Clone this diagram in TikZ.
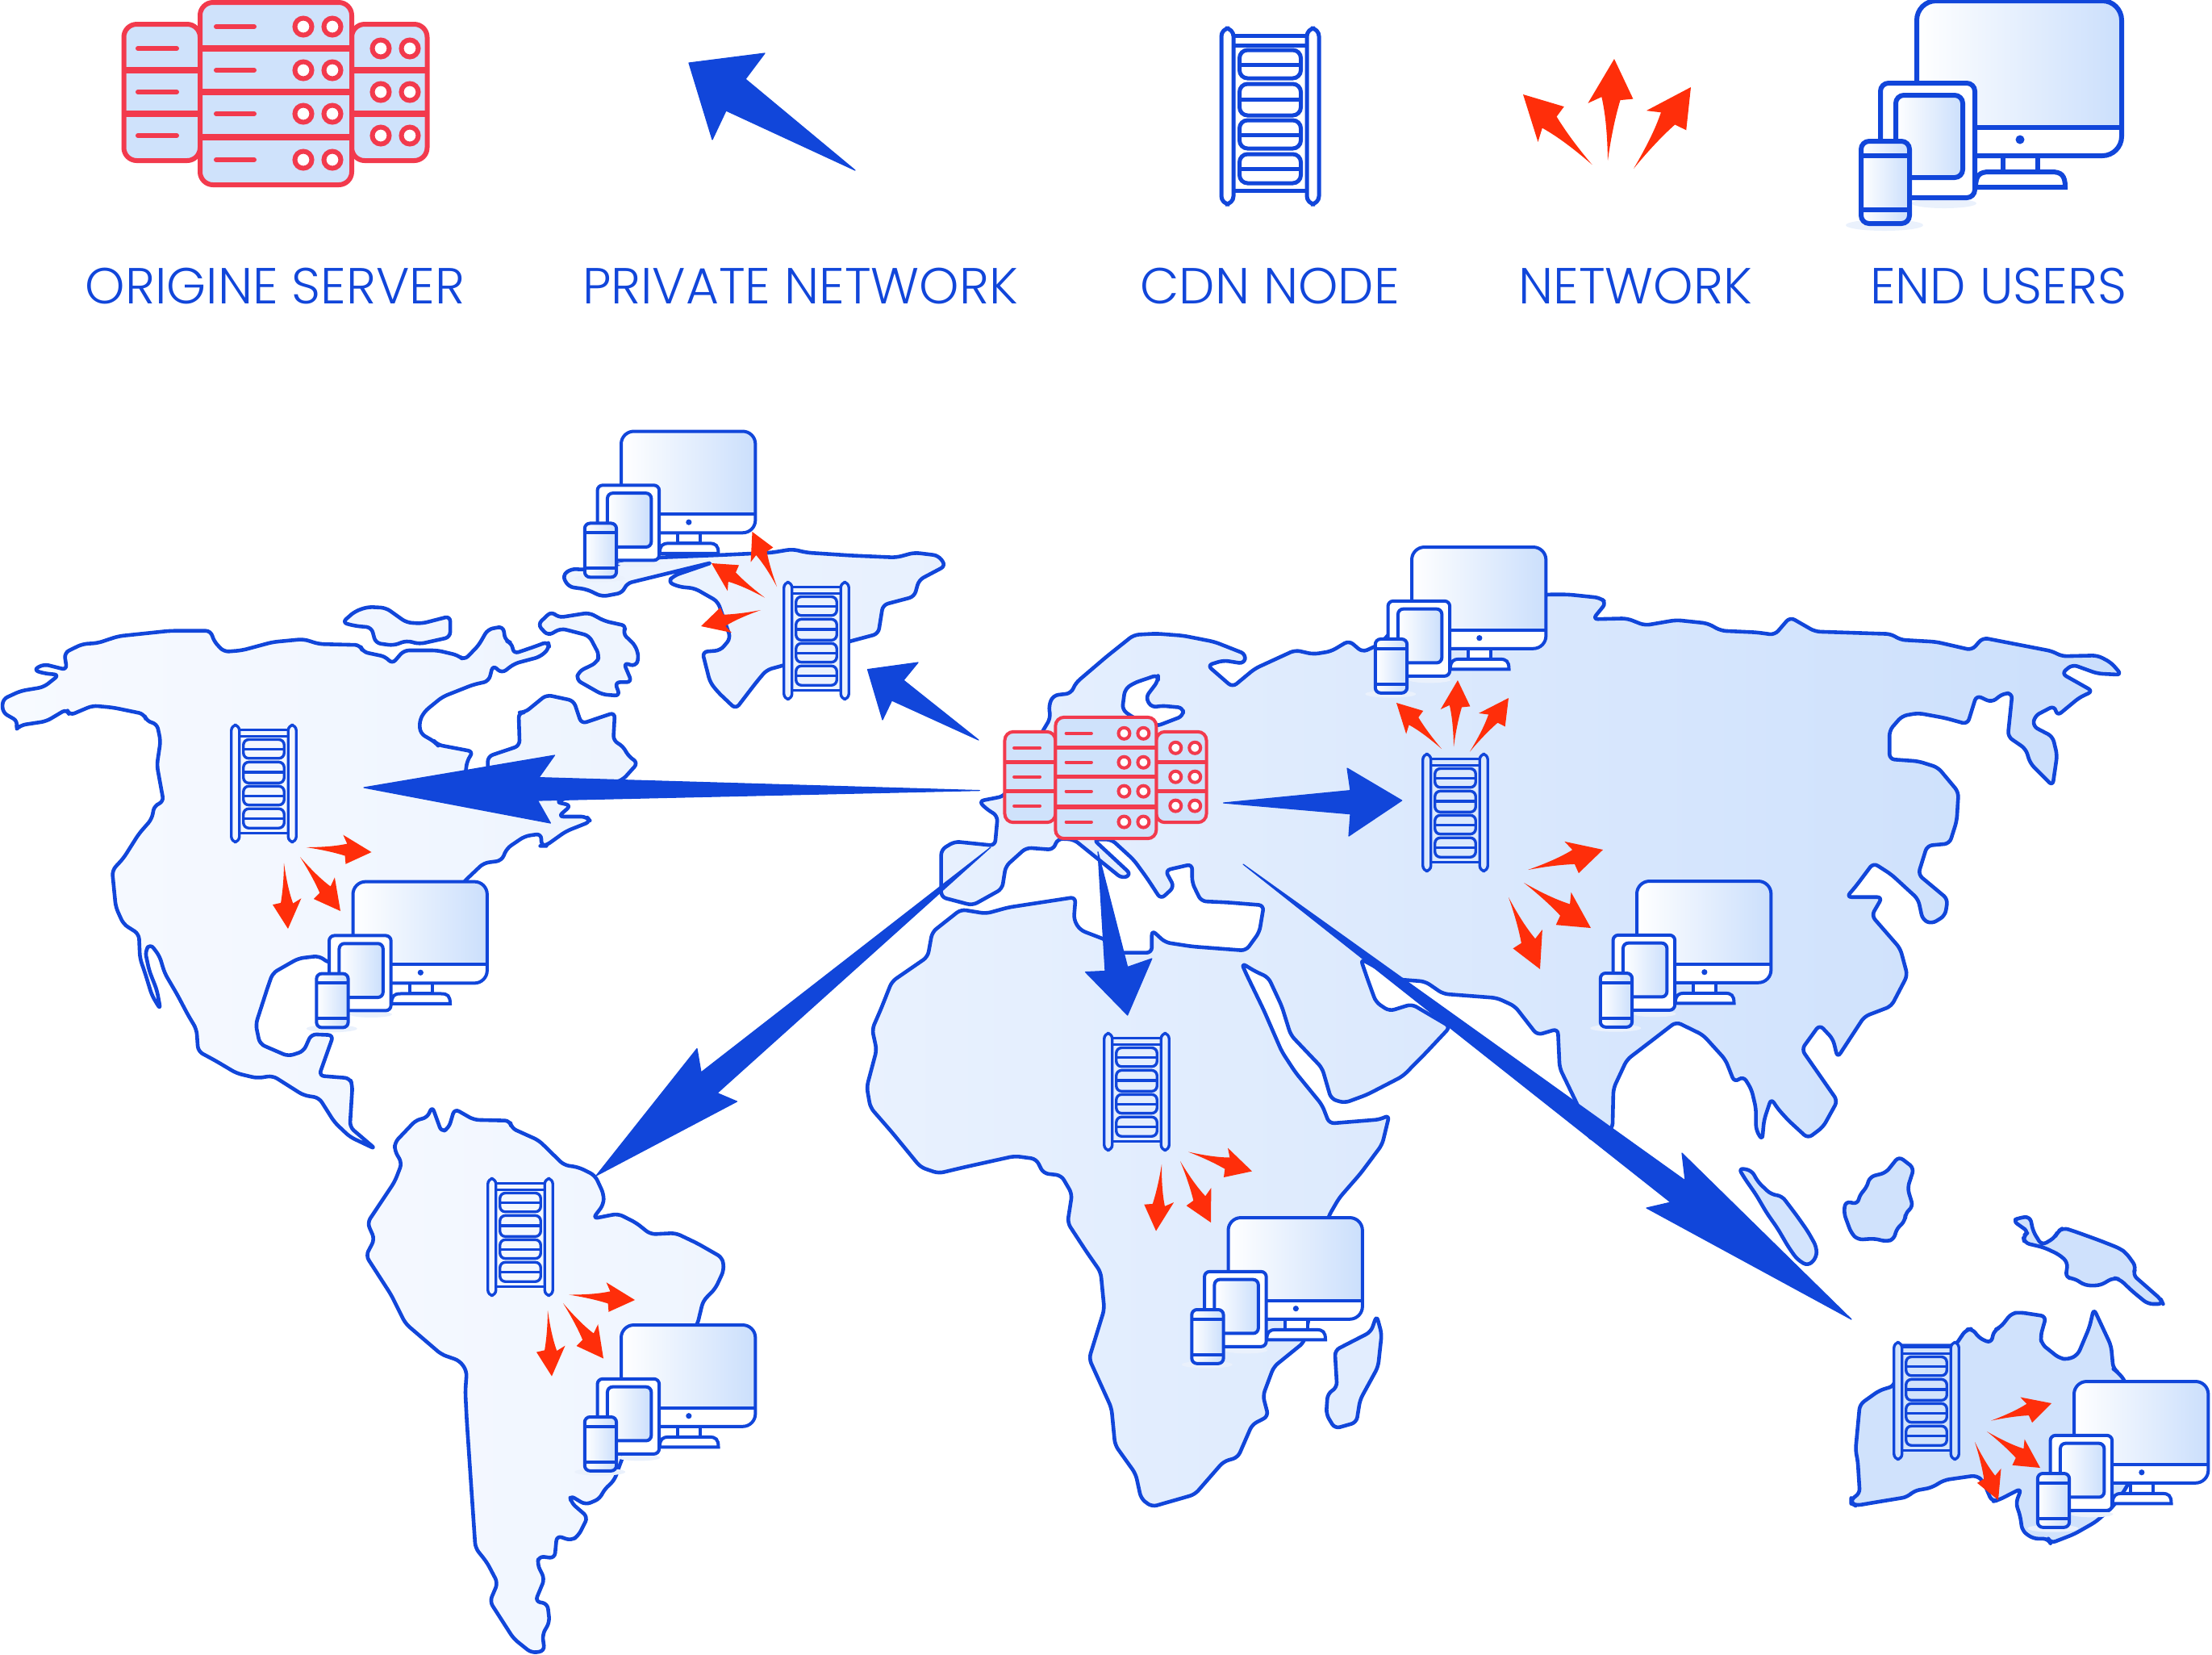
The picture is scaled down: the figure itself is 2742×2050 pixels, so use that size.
\documentclass[tikz,border=0pt]{standalone}
\usepackage{fontspec}
\setmainfont{Poppins Light}
\definecolor{mainblue}{HTML}{1146DA}
\definecolor{netred}{HTML}{FF2E0A}
\definecolor{srvred}{HTML}{F23A4D}
\definecolor{srvfill}{HTML}{CFE2FB}
\definecolor{scr}{HTML}{CBDFFC}
\definecolor{mapL}{HTML}{F7FAFF}
\definecolor{mapR}{HTML}{CBDFFC}
\definecolor{shadowc}{HTML}{EAF1FC}
\tikzset{
  land/.style={draw=mainblue,line width=1.15pt,line join=round,rounded corners=1.6pt,left color=mapR!#1!mapL,right color=mapR!#1!mapL},
  landrange/.style 2 args={draw=mainblue,line width=1.15pt,line join=round,rounded corners=1.6pt,left color=mapR!#1!mapL,right color=mapR!#2!mapL},
  bluearrow/.style={fill=mainblue,draw=mainblue,line width=.3pt,line join=round},
  redarrow/.style={fill=netred},
  lbl/.style={text=mainblue,font=\fontsize{15.7}{18}\selectfont,anchor=base,inner sep=0pt},
}
% origin server icon: centre x,y, scale, line width
\newcommand\ServerIcon[4]{%
\begin{scope}[shift={(#1,#2)},scale=#3,line width=#4,draw=srvred]
  \pgfmathsetmacro\rr{#3*4}
  \filldraw[fill=srvfill,rounded corners=\rr pt] (-188,-86) rectangle (-93.5,83);
  \filldraw[fill=srvfill,rounded corners=\rr pt] (94.5,-86) rectangle (188,83);
  \filldraw[fill=srvfill,rounded corners=\rr pt] (-93.5,-113) rectangle (94.5,113);
  \foreach \yy in {-29,25} {
    \draw[line width=1.3*#4] (-188,\yy) -- (-93.5,\yy);
    \draw[line width=1.3*#4] (94.5,\yy) -- (188,\yy);
  }
  \foreach \yy in {-56,-2,54} \draw[line width=1.3*#4] (-93.5,\yy) -- (94.5,\yy);
  \foreach \yy in {-56,-2,52} {
    \draw[line cap=round] (-170.5,\yy) -- (-122.5,\yy);
    \foreach \xx in {130.5,166.5} \filldraw[fill=white] (\xx,\yy) circle (10.5);
  }
  \foreach \yy in {-83,-29,25,82} {
    \draw[line cap=round] (-73.5,\yy) -- (-26.5,\yy);
    \foreach \xx in {34.5,70.5} \filldraw[fill=white] (\xx,\yy) circle (10.5);
  }
\end{scope}}
% CDN node icon: centre x,y, scale, line width, interior colour
\newcommand\CdnIcon[5]{%
\begin{scope}[shift={(#1,#2)},scale=#3,line width=#4,draw=mainblue]
  \pgfmathsetmacro\rr{#3*2.5}
  \fill[#5] (-50,-96) rectangle (50,96);
  \draw (-48,-100) -- (48,-100);
  \draw (-48,-88) -- (48,-88);
  \draw (-48,92) -- (48,92);
  \filldraw[fill=#5,rounded corners=\rr pt] (-60.5,-109) rectangle (-45.5,109);
  \filldraw[fill=#5,rounded corners=\rr pt] (45.5,-109) rectangle (60.5,109);
  \foreach \ya/\yb/\ym in {-82/-47/-64,-40/-1/-21,5/40/23,47/83/65} {
    \filldraw[fill=#5,rounded corners=\rr pt] (-38,\ya) rectangle (38,\yb);
    \draw (-38,\ym) -- (38,\ym);
  }
\end{scope}}
% end users icon: monitor top-left x,y, scale, line width
\newcommand\UsersIcon[4]{%
\begin{scope}[shift={(#1,#2)},scale=#3,line width=#4,draw=mainblue]
  \pgfmathsetmacro\rr{#3*6}
  \pgfmathsetmacro\rs{#3*2.5}
  \fill[shadowc] (-40,278) ellipse (48 and 7);
  \fill[shadowc] (34,251) ellipse (40 and 6);
  \filldraw[fill=white] (107,192) rectangle (150,212);
  \filldraw[fill=white] (73,231) .. controls (73,216) and (78,212) .. (90,212) -- (167,212) .. controls (179,212) and (184,216) .. (184,231) -- cycle;
  \path[left color=white,right color=scr,rounded corners=\rr pt] (0,0) rectangle (254,192);
  \fill[white] (1,157) [rounded corners=\rr pt] -- (1,191) -- (253,191) [sharp corners] -- (253,157) -- cycle;
  \draw[rounded corners=\rr pt] (0,0) rectangle (254,192);
  \draw (0,157) -- (254,157);
  \fill[mainblue] (128,172) circle (5.5);
  \filldraw[fill=white,rounded corners=\rs pt] (-45,102) rectangle (72,244);
  \path[left color=white,right color=scr,rounded corners=\rs pt] (-26,117) rectangle (57,219);
  \draw[rounded corners=\rs pt] (-26,117) rectangle (57,219);
  \path[left color=white,right color=scr,rounded corners=\rs pt] (-69,174) rectangle (-9,276);
  \draw[rounded corners=\rs pt] (-69,174) rectangle (-9,276);
  \draw (-69,192) -- (-9,192);
  \draw (-69,259) -- (-9,259);
\end{scope}}
% small red arrow: tail x,y, tip x,y
\newcommand\NetArrow[4]{%
  \pgfmathsetmacro\adx{#3-#1}\pgfmathsetmacro\ady{#4-#2}%
  \def\AP##1##2##3{\coordinate (##1) at ({#1+##2*\adx-##3*\ady},{#2+##2*\ady+##3*\adx});}%
  \AP{at}{0}{0}\AP{aa}{.25}{-.02}\AP{ab}{.45}{-.05}\AP{ac}{.62}{-.1}\AP{ad}{.55}{-.23}\AP{ae}{1}{0}%
  \AP{af}{.62}{.21}\AP{ag}{.6}{.085}\AP{ah}{.45}{.05}\AP{ai}{.25}{.018}%
  \fill[redarrow] (at) .. controls (aa) and (ab) .. (ac) -- (ad) -- (ae) -- (af) -- (ag) .. controls (ah) and (ai) .. (at) -- cycle;}
\begin{document}
\begin{tikzpicture}[x=.25pt,y=-.25pt]
\useasboundingbox (0,0) rectangle (2742,2050);

% ---- land: North America and its islands
\begin{scope}[shift={(0,500)},xscale=.6378,yscale=.6059]
\draw[landrange={0}{22}] (5,605)--(40,588)--(85,580)--(115,555)--(85,552)--(65,545)--(85,533)--(130,545)--(125,510)--(160,492)--(190,490)--(230,476)--(330,465)--(410,465)--(415,485)--(435,508)--(470,505)--(530,488)--(590,482)--(620,492)--(700,494)--(705,508)--(750,518)--(762,533)--(785,505)--(850,505)--(890,515)--(902,525)--(930,495)--(948,462)--(978,456)--(982,485)--(995,490)--(998,512)--(1040,497)--(1065,487)--(1068,500)--(1050,518)--(1000,532)--(975,552)--(958,535)--(950,568)--(920,575)--(860,600)--(825,630)--(815,650)--(817,675)--(845,692)--(850,698)--(920,712)--(908,730)--(903,770)--(948,770)--(948,722)--(1010,700)--(1008,632)--(1020,632)--(1062,596)--(1115,608)--(1130,655)--(1195,632)--(1192,690)--(1210,700)--(1222,722)--(1240,735)--(1210,770)--(1120,800)--(1080,815)--(1110,822)--(1085,845)--(1140,845)--(1148,855)--(1100,875)--(1060,905)--(1052,905)--(1052,880)--(1020,885)--(985,910)--(975,935)--(940,940)--(905,975)--(800,1100)--(640,1145)--(620,1130)--(580,1135)--(530,1165)--(520,1195)--(497,1270)--(505,1310)--(560,1335)--(590,1325)--(605,1290)--(648,1292)--(620,1375)--(680,1380)--(685,1395)--(680,1480)--(730,1525)--(680,1500)--(650,1470)--(620,1420)--(590,1415)--(530,1375)--(500,1380)--(460,1370)--(420,1345)--(385,1325)--(382,1280)--(365,1250)--(345,1210)--(320,1165)--(310,1130)--(292,1105)--(282,1120)--(290,1160)--(305,1200)--(312,1240)--(295,1210)--(282,1165)--(272,1135)--(270,1085)--(240,1065)--(225,1030)--(218,955)--(240,930)--(270,880)--(295,850)--(300,822)--(318,815)--(305,740)--(312,690)--(305,655)--(285,650)--(280,635)--(220,622)--(180,618)--(135,638)--(130,625)--(90,650)--(40,658)--(30,668)--(35,650)--(5,632)--cycle;
\draw[land=14] (665,448)--(690,425)--(715,416)--(750,418)--(790,448)--(820,450)--(875,435)--(875,478)--(815,492)--(790,485)--(765,495)--(730,490)--(722,458)--(690,455)--cycle;
\draw[land=18] (1045,452)--(1072,425)--(1085,438)--(1145,428)--(1175,445)--(1218,455)--(1210,470)--(1235,495)--(1242,520)--(1235,538)--(1212,530)--(1228,570)--(1195,570)--(1205,598)--(1170,595)--(1120,565)--(1125,548)--(1160,530)--(1165,515)--(1145,475)--(1090,460)--(1065,475)--cycle;
% Greenland
\draw[landrange={22}{36}] (1093,352)--(1110,338)--(1135,340)--(1280,315)--(1400,310)--(1500,305)--(1540,298)--(1568,305)--(1655,311)--(1742,315)--(1777,305)--(1824,311)--(1838,332)--(1786,361)--(1777,395)--(1716,412)--(1707,471)--(1650,487)--(1525,535)--(1490,545)--(1470,570)--(1430,625)--(1395,590)--(1380,570)--(1365,508)--(1400,505)--(1420,480)--(1410,450)--(1395,405)--(1350,378)--(1320,375)--(1298,365)--(1310,352)--(1385,325)--(1218,368)--(1210,387)--(1170,395)--(1140,380)--(1105,375)--cycle;
\end{scope}

% ---- land: South America
\begin{scope}[shift={(400,1250)},xscale=.893,yscale=.5102]
\draw[landrange={6}{18}] (100,325)--(130,270)--(145,265)--(152,237)--(165,300)--(175,290)--(183,243)--(210,270)--(260,272)--(262,290)--(300,320)--(335,380)--(355,385)--(378,405)--(390,450)--(390,475)--(375,510)--(410,498)--(435,520)--(455,548)--(490,545)--(520,570)--(555,605)--(557,635)--(545,680)--(528,710)--(520,768)--(460,900)--(413,1105)--(405,1145)--(390,1170)--(385,1190)--(365,1205)--(343,1182)--(345,1200)--(368,1235)--(355,1280)--(345,1292)--(325,1280)--(322,1335)--(300,1330)--(298,1350)--(308,1385)--(295,1440)--(312,1445)--(315,1490)--(305,1520)--(308,1560)--(290,1565)--(265,1530)--(232,1440)--(243,1395)--(228,1345)--(212,1310)--(205,1130)--(200,1000)--(198,930)--(200,880)--(190,855)--(165,840)--(115,765)--(95,695)--(60,600)--(72,560)--(62,520)--(100,420)--(110,375)--(100,345)--cycle;
\draw[land=48] (1463,745)--(1470,790)--(1465,870)--(1440,950)--(1435,1005)--(1405,1020)--(1393,985)--(1395,935)--(1408,920)--(1405,830)--(1455,785)--cycle;
\end{scope}

% ---- land: Eurasia and Africa
\begin{scope}[shift={(1000,650)},xscale=1.1111,yscale=.5102]
\draw[landrange={32}{100}] (272,470)--(270,440)--(275,415)--(295,410)--(300,385)--(335,320)--(365,268)--(390,265)--(420,270)--(455,285)--(490,315)--(488,338)--(465,330)--(447,342)--(475,395)--(500,350)--(545,305)--(565,315)--(585,308)--(605,282)--(620,310)--(640,290)--(660,240)--(825,170)--(850,170)--(885,178)--(892,190)--(877,230)--(915,228)--(935,245)--(970,232)--(1005,240)--(1020,258)--(1060,262)--(1080,268)--(1097,225)--(1125,260)--(1210,266)--(1220,280)--(1260,285)--(1300,305)--(1312,275)--(1390,308)--(1400,320)--(1440,318)--(1455,335)--(1467,365)--(1440,362)--(1412,340)--(1400,362)--(1435,405)--(1420,420)--(1395,465)--(1392,440)--(1370,465)--(1368,490)--(1390,515)--(1395,560)--(1390,635)--(1365,580)--(1360,545)--(1340,515)--(1345,410)--(1335,410)--(1322,432)--(1305,415)--(1295,485)--(1270,470)--(1240,458)--(1222,465)--(1208,500)--(1208,570)--(1240,575)--(1262,590)--(1285,650)--(1283,720)--(1275,775)--(1250,780)--(1240,850)--(1273,910)--(1270,950)--(1255,970)--(1245,960)--(1240,910)--(1210,850)--(1190,822)--(1170,880)--(1160,905)--(1200,905)--(1188,950)--(1220,1030)--(1228,1095)--(1210,1170)--(1180,1195)--(1150,1295)--(1145,1250)--(1130,1215)--(1110,1275)--(1150,1400)--(1134,1463)--(1117,1491)--(1105,1467)--(1095,1447)--(1083,1418)--(1076,1394)--(1068,1447)--(1066,1496)--(1059,1470)--(1059,1418)--(1054,1372)--(1045,1340)--(1035,1355)--(1025,1300)--(1000,1240)--(970,1208)--(945,1250)--(915,1300)--(900,1370)--(899,1467)--(875,1496)--(860,1410)--(840,1320)--(838,1225)--(815,1240)--(790,1170)--(770,1150)--(710,1140)--(690,1110)--(660,1105)--(618,1055)--(625,1100)--(635,1160)--(650,1182)--(675,1165)--(718,1220)--(690,1285)--(665,1340)--(625,1385)--(600,1405)--(585,1395)--(575,1320)--(540,1240)--(530,1170)--(515,1100)--(500,1085)--(485,1065)--(490,1090)--(510,1180)--(530,1280)--(545,1330)--(575,1410)--(583,1455)--(640,1445)--(650,1434)--(642,1506)--(618,1576)--(594,1636)--(582,1681)--(555,1986)--(521,2046)--(509,2116)--(515,2166)--(497,2186)--(481,2266)--(465,2276)--(433,2356)--(385,2386)--(373,2366)--(367,2306)--(344,2236)--(340,2146)--(315,2026)--(332,1906)--(328,1816)--(312,1766)--(291,1696)--(296,1626)--(284,1581)--(264,1576)--(256,1541)--(232,1534)--(176,1561)--(147,1576)--(127,1561)--(95,1476)--(71,1416)--(67,1366)--(78,1276)--(73,1226)--(83,1176)--(95,1110)--(135,1050)--(140,990)--(172,935)--(200,945)--(225,930)--(300,905)--(298,960)--(305,985)--(335,1010)--(345,1040)--(385,1040)--(385,985)--(400,1015)--(430,1025)--(490,1035)--(505,990)--(510,925)--(470,918)--(440,915)--(430,870)--(430,825)--(400,840)--(410,880)--(395,910)--(380,860)--(365,815)--(340,765)--(320,765)--(362,850)--(352,860)--(298,765)--(280,763)--(275,790)--(245,785)--(222,830)--(218,885)--(185,925)--(150,905)--(150,790)--(165,770)--(210,780)--(213,708)--(200,690)--(192,672)--(220,660)--cycle;
\draw[draw=mainblue,line width=1.15pt,line join=round,rounded corners=1.6pt,fill=white] (392,365)--(365,385)--(355,400)--(352,450)--(365,470)--(390,490)--(420,465)--(420,445)--(395,440)--(385,445)--(378,420)--(392,380)--cycle;
\end{scope}

% ---- land: islands and Australia
\begin{scope}[shift={(1900,1350)},xscale=.537,yscale=.3827]
\draw[land=82] (475,255)--(505,262)--(520,300)--(550,340)--(575,345)--(610,410)--(635,460)--(655,510)--(655,545)--(635,572)--(610,550)--(590,510)--(565,450)--(540,400)--(515,340)--(490,290)--cycle;
\draw[land=88] (845,217)--(880,255)--(865,320)--(878,380)--(860,400)--(860,425)--(838,455)--(835,485)--(815,493)--(790,483)--(750,487)--(735,465)--(718,400)--(722,362)--(750,372)--(755,340)--(770,320)--(778,283)--(815,270)--cycle;
\draw[land=92] (1108,425)--(1145,462)--(1132,475)--(1135,497)--(1180,512)--(1215,535)--(1235,560)--(1230,610)--(1250,612)--(1275,635)--(1310,635)--(1340,610)--(1355,615)--(1385,655)--(1420,695)--(1455,695)--(1450,680)--(1385,600)--(1393,575)--(1370,530)--(1355,515)--(1310,490)--(1255,462)--(1225,448)--(1212,460)--(1205,480)--(1175,505)--(1155,460)--(1148,412)--(1125,415)--cycle;
\draw[land=88] (735,1325)--(755,1310)--(750,1200)--(745,1170)--(755,1020)--(775,1000)--(800,975)--(835,960)--(840,830)--(975,830)--(1000,778)--(1015,775)--(1030,805)--(1058,822)--(1065,780)--(1080,770)--(1105,725)--(1125,722)--(1185,735)--(1172,800)--(1175,825)--(1215,870)--(1235,875)--(1258,860)--(1285,770)--(1295,710)--(1315,770)--(1335,830)--(1340,905)--(1350,915)--(1368,945)--(1400,1200)--(1370,1290)--(1340,1350)--(1300,1400)--(1250,1440)--(1195,1470)--(1190,1455)--(1155,1455)--(1130,1430)--(1125,1380)--(1115,1340)--(1128,1292)--(1075,1330)--(1060,1335)--(1040,1270)--(1025,1250)--(950,1265)--(920,1290)--(880,1300)--(865,1320)--(800,1335)--(745,1348)--(735,1340)--cycle;
\end{scope}

% ---- blue arrows
\fill[bluearrow] (854,78)--(948,66)--(924,98)--(1060,211)--(900,137)--(883,173)--cycle;
\fill[bluearrow] (1075.5,829.6)--(1138,821)--(1120,843)--(1213,917)--(1105.5,868)--(1094,892)--cycle;
\fill[bluearrow] (451,976)--(687.5,936)--(668,963.6)--(1214.4,979.6)--(666.5,992)--(682.4,1020)--cycle;
\fill[bluearrow] (1516.6,995)--(1674,979.6)--(1670,952)--(1737.7,992)--(1672,1036)--(1674,1008.7)--cycle;
\fill[bluearrow] (1361,1055.6)--(1397.7,1198.5)--(1427.8,1188)--(1397.7,1258)--(1345.5,1204.6)--(1370,1203.5)--cycle;
\fill[bluearrow] (1228,1050)--(869,1329)--(864,1299.5)--(739,1457)--(913.5,1365)--(889,1354.6)--cycle;
\fill[bluearrow] (1541,1071)--(2089,1463)--(2085,1429)--(2295,1635)--(2041,1497)--(2071,1490)--cycle;

% ---- red arrows
\NetArrow{1973.5}{204}{1888}{117}
\NetArrow{1993}{199}{2001}{73}
\NetArrow{2025}{209}{2096}{108}
\NetArrow{963}{727}{932.5}{659}
\NetArrow{948}{740.6}{882}{698}
\NetArrow{943}{756}{869}{776}
\NetArrow{379.5}{1050}{460.5}{1056}
\NetArrow{372}{1062}{422}{1129}
\NetArrow{352}{1069.6}{357}{1151}
\NetArrow{1787}{928}{1731}{871}
\NetArrow{1802}{925.5}{1807}{843}
\NetArrow{1822}{931.5}{1870}{865}
\NetArrow{1894}{1078}{1987}{1053}
\NetArrow{1889}{1094}{1972}{1150}
\NetArrow{1870}{1112}{1909}{1201}
\NetArrow{1473}{1427.5}{1552}{1451.5}
\NetArrow{1463}{1439}{1501}{1515}
\NetArrow{1440}{1443}{1433}{1525.5}
\NetArrow{705}{1604.5}{787}{1611}
\NetArrow{698}{1615}{748}{1683.5}
\NetArrow{679}{1624}{684}{1705.5}
\NetArrow{2468}{1760.6}{2543}{1739}
\NetArrow{2463}{1774}{2529}{1819}
\NetArrow{2448}{1787}{2477}{1859}

% ---- icons
\ServerIcon{341.5}{116}{1}{1.5pt}
\ServerIcon{1370.5}{964}{.665}{1pt}
\CdnIcon{1574.5}{144}{1}{1.25pt}{white}
\CdnIcon{1012}{794}{.665}{.85pt}{mapR!28!mapL}
\CdnIcon{327}{971}{.665}{.85pt}{mapR!10!mapL}
\CdnIcon{1804}{1007}{.665}{.85pt}{mapR!62!mapL}
\CdnIcon{1409}{1353}{.665}{.85pt}{mapR!44!mapL}
\CdnIcon{645}{1533}{.665}{.85pt}{mapR!9!mapL}
\CdnIcon{2388}{1736}{.665}{.85pt}{mapR!85!mapL}
\UsersIcon{2376}{1}{1}{1.5pt}
\UsersIcon{770}{534.5}{.655}{1pt}
\UsersIcon{1750}{678}{.655}{1pt}
\UsersIcon{2029}{1092}{.655}{1pt}
\UsersIcon{437.5}{1092.6}{.655}{1pt}
\UsersIcon{770}{1642}{.655}{1pt}
\UsersIcon{1522.5}{1509}{.655}{1pt}
\UsersIcon{2571}{1712}{.655}{1pt}

% ---- labels
\node[lbl] (lorigin) at (341,376) {ORIGINE SERVER};
\node[lbl] (lprivate) at (992,376) {PRIVATE NETWORK};
\node[lbl] (lcdn) at (1574,376) {CDN NODE};
\node[lbl] (lnet) at (2027,376) {NETWORK};
\node[lbl] (lusers) at (2477,376) {END USERS};
\end{tikzpicture}
\end{document}
